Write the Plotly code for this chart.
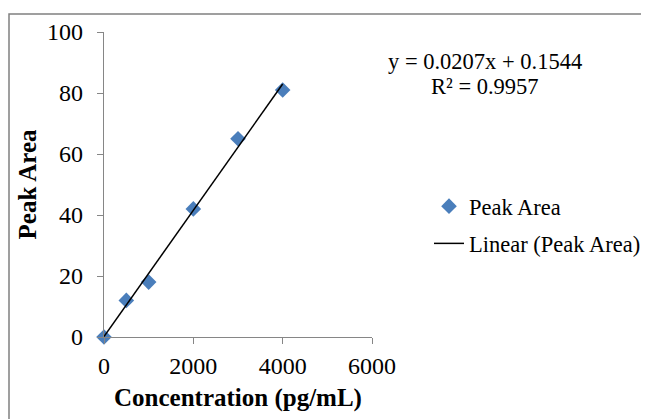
import plotly.graph_objects as go

concentration = [0, 500, 1000, 2000, 3000, 4000]
peak_area = [0, 12, 18, 42, 65, 81]
slope = 0.0207
intercept = 0.1544
r_squared = 0.9957
trend_x = [min(concentration), max(concentration)]
trend_y = [slope * v + intercept for v in trend_x]
x_ticks = [0, 2000, 4000, 6000]
y_ticks = [0, 20, 40, 60, 80, 100]

FONT = "Liberation Serif"
OFF = 8  # page body margin
W, H = 649 - OFF, 419 - OFF
L, R, T, B = 104 - OFF, 372 - OFF, 32 - OFF, 337 - OFF

def px_x(p):
    return (p - OFF - L) / (R - L)

def px_y(p):
    return (B - (p - OFF)) / (B - T)

fig = go.Figure()
fig.add_trace(go.Scatter(
    x=concentration, y=peak_area, mode="markers", name="Peak Area",
    marker=dict(symbol="diamond", size=12, color="#4A7EBB"),
    cliponaxis=False, legendgroup="a",
))
fig.add_trace(go.Scatter(
    x=trend_x, y=trend_y, mode="lines", name="Linear (Peak Area)",
    line=dict(color="black", width=1.5), legendgroup="b",
))

axis_common = dict(
    showgrid=False, zeroline=False, showline=True, linecolor="#868686",
    linewidth=1.3, ticks="outside", ticklen=6, tickcolor="#868686",
    tickwidth=1.3, tickfont=dict(family=FONT, size=24, color="black"),
)
fig.update_xaxes(range=[0, 6000], tickvals=x_ticks, **axis_common,
                 ticklabelstandoff=1,
                 title=dict(text="<b>Concentration (pg/mL)</b>",
                            font=dict(family=FONT, size=25, color="black"),
                            standoff=10))
fig.update_yaxes(range=[0, 100], tickvals=y_ticks, **axis_common,
                 ticklabelstandoff=9,
                 title=dict(text="<b>Peak Area</b>",
                            font=dict(family=FONT, size=25, color="black"),
                            standoff=3))

fig.add_annotation(
    x=px_x(485), y=px_y(61), xref="paper", yref="paper",
    text=f"y = {slope:.4f}x + {intercept:.4f}",
    showarrow=False, xanchor="center", yanchor="middle",
    font=dict(family=FONT, size=22.5, color="black"),
)
fig.add_annotation(
    x=px_x(485), y=px_y(86), xref="paper", yref="paper",
    text=f"R² = {r_squared:.4f}",
    showarrow=False, xanchor="center", yanchor="middle",
    font=dict(family=FONT, size=22.5, color="black"),
)

# outer border (top and left visible)
fig.add_shape(type="path", xref="paper", yref="paper",
              path=f"M {px_x(9)},{px_y(440)} L {px_x(9)},{px_y(14)} L {px_x(645)},{px_y(14)}",
              line=dict(color="#808080", width=1.5))

fig.update_layout(
    width=W, height=H,
    margin=dict(l=L, r=W - R, t=T, b=H - B),
    paper_bgcolor="white", plot_bgcolor="white",
    font=dict(family=FONT, size=22, color="black"),
    legend=dict(xref="container", yref="container",
                x=(422 - 1) / W, y=1 - 177 / H, xanchor="left", yanchor="top",
                font=dict(family=FONT, size=22.5, color="black"),
                tracegroupgap=5, bgcolor="rgba(0,0,0,0)"),
    showlegend=True,
)

fig.write_html("out.html")
